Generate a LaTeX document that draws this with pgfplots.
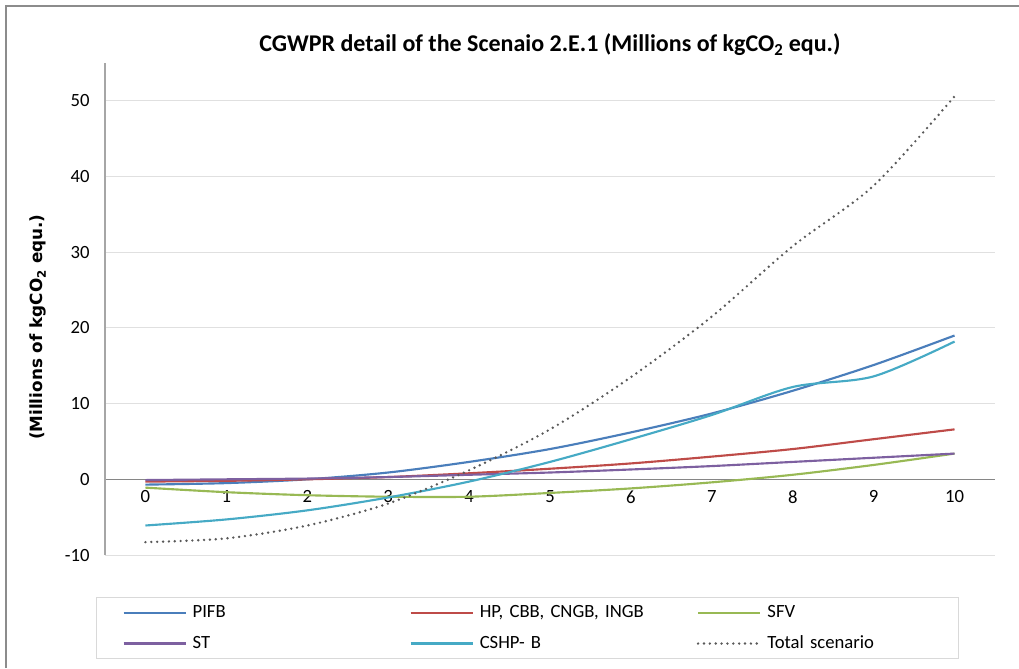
\documentclass[border=0pt]{standalone}
\usepackage{pgfplots}
\pgfplotsset{compat=1.18}
\usepackage{fontspec}
\setmainfont{Carlito}
\newfontfamily\ylabfont{DejaVu Sans}
\definecolor{cPIFB}{HTML}{4A7EBB}
\definecolor{cHP}{HTML}{BE4B48}
\definecolor{cSFV}{HTML}{98B954}
\definecolor{cST}{HTML}{7D60A0}
\definecolor{cCSHP}{HTML}{46AAC5}
\definecolor{cTot}{HTML}{595959}
\definecolor{framegray}{HTML}{8C8C8C}
\definecolor{gridgray}{HTML}{E0E0E0}
\definecolor{xaxisgray}{HTML}{868686}
\definecolor{yaxisgray}{HTML}{A6A6A6}
\definecolor{legendgray}{HTML}{D9D9D9}

\pgfplotstableread{
x PIFB HP SFV ST CSHP Total
0 -0.7 -0.3 -1.1 -0.1 -6.1 -8.3
1 -0.5 -0.2 -1.7 0.0 -5.3 -7.8
2 0.0 0.0 -2.1 0.1 -4.1 -6.1
3 0.9 0.3 -2.3 0.3 -2.4 -3.2
4 2.3 0.8 -2.3 0.6 -0.3 1.2
5 4.0 1.4 -1.8 0.9 2.3 6.6
6 6.2 2.1 -1.2 1.3 5.3 13.5
7 8.7 3.0 -0.4 1.75 8.5 21.5
8 11.7 4.0 0.6 2.3 12.2 30.8
9 15.1 5.3 1.9 2.85 13.6 38.8
10 19.0 6.6 3.4 3.4 18.2 50.6
}\datatable

\begin{document}
\frenchspacing
\begin{tikzpicture}
\path[use as bounding box] (0,0) rectangle (764.25pt,-501pt);
\draw[color=framegray, line width=1pt] (4.5pt,-501pt) -- (4.5pt,-4.5pt) -- (764.25pt,-4.5pt);
\begin{axis}[
  at={(78.75pt,-416.25pt)}, anchor=south west,
  scale only axis, width=667.5pt, height=369pt,
  xmin=-0.5, xmax=10.5, ymin=-10, ymax=55,
  axis x line=middle, axis y line=left,
  x axis line style={-, draw=xaxisgray, line width=0.75pt},
  y axis line style={-, draw=yaxisgray, line width=1pt},
  hide obscured x ticks=false, hide obscured y ticks=false,
  xtick={0,1,2,3,4,5,6,7,8,9,10},
  xticklabels={0,1,2,3,4,5,6,7,8,9,10},
  ytick={-10,0,10,20,30,40,50},
  yticklabels={-10,0,10,20,30,40,50},
  major tick length=0pt,
  ymajorgrids, grid style={gridgray, line width=0.75pt},
  tick label style={font=\fontsize{14}{16}\selectfont, text=black},
  xticklabel style={yshift=-5pt},
  yticklabel style={xshift=-8pt},
  title={CGWPR detail of the Scenaio 2.E.1 (Millions of kgCO\textsubscript{2} equ.)},
  title style={font=\bfseries\fontsize{18}{21}\selectfont, at={(0.5,1)}, anchor=base, yshift=2.3pt},
  ylabel={(Millions of kgCO\textsubscript{2} equ.)},
  every axis y label/.style={at={(rel axis cs:-0.0753,0.463)}, rotate=90, anchor=center, font=\ylabfont\bfseries\fontsize{12.6}{15}\selectfont},
  legend columns=3,
  legend cell align=left,
  legend style={at={(-0.0101,-0.0854)}, anchor=north west, draw=legendgray, line width=0.75pt,
    inner xsep=19.5pt, inner ysep=5pt, font=\fontsize{14}{16}\selectfont,
    row sep=10pt, column sep=0pt,
    nodes={inner xsep=4.5pt, inner ysep=0pt, text height=10pt, text depth=3pt, anchor=west, align=left},
    /tikz/column 2/.style={nodes={text width=158.25pt}},
    /tikz/column 4/.style={nodes={text width=158.25pt}},
    /tikz/column 6/.style={nodes={text width=119pt}}},
  legend image code/.code={\draw[#1] (0pt,0pt) -- (46.5pt,0pt);},
  every axis plot/.append style={line width=1.6pt, smooth, no markers},
]
\addplot[cPIFB] table[x=x, y=PIFB] {\datatable};
\addlegendentry{PIFB}
\addplot[cHP] table[x=x, y=HP] {\datatable};
\addlegendentry{HP, CBB, CNGB, INGB}
\addplot[cSFV] table[x=x, y=SFV] {\datatable};
\addlegendentry{SFV}
\addplot[cST] table[x=x, y=ST] {\datatable};
\addlegendentry{ST}
\addplot[cCSHP] table[x=x, y=CSHP] {\datatable};
\addlegendentry{CSHP- B}
\addplot[cTot, line width=2pt, line cap=round, dash pattern=on 0pt off 4.4pt] table[x=x, y=Total] {\datatable};
\addlegendentry{Total scenario}
\end{axis}
\end{tikzpicture}
\end{document}
